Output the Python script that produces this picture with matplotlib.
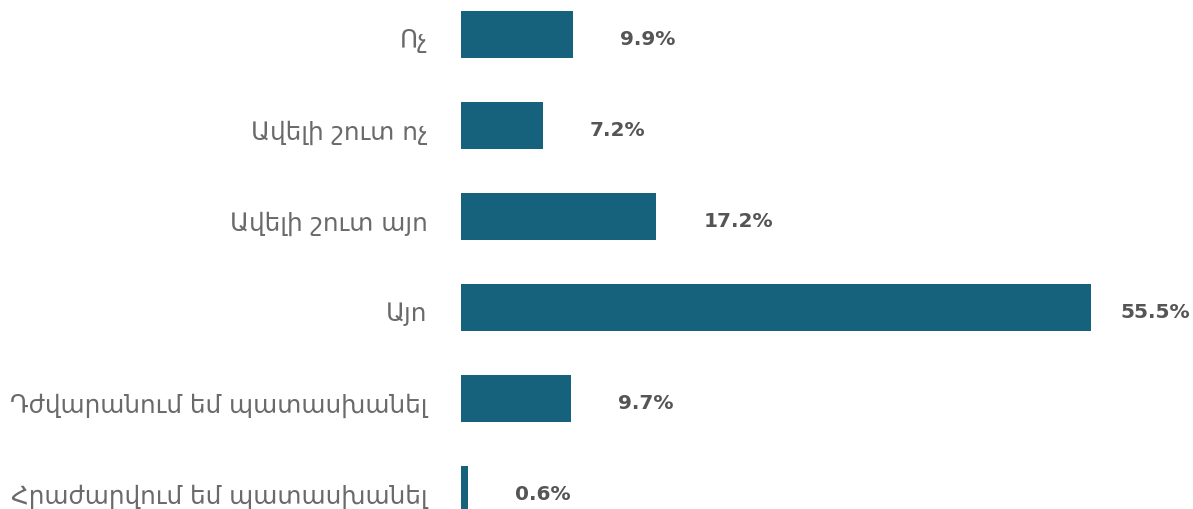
import matplotlib
matplotlib.use("Agg")
import matplotlib.pyplot as plt
import matplotlib.transforms as mtrans

categories = ["Ոչ", "Ավելի շուտ ոչ", "Ավելի շուտ այո", "Այո",
              "Դժվարանում եմ պատասխանել", "Հրաժարվում եմ պատասխանել"]
values = [9.9, 7.2, 17.2, 55.5, 9.7, 0.6]
value_labels = ["9.9%", "7.2%", "17.2%", "55.5%", "9.7%", "0.6%"]

W, H = 1193, 510
fig = plt.figure(figsize=(W / 100, H / 100), dpi=100)
ax = fig.add_axes([461 / W, 0, (1091 - 461) / W, 1])

pos = list(range(len(categories)))
ax.barh(pos, values, height=0.52, color="#16627d")
ax.set_xlim(0, max(values))
ax.set_ylim(5 + (510 - 490.5) / 91, -35.5 / 91)

ax.set_yticks(pos)
ax.set_yticklabels(categories, fontsize=17.8, color="#6a6a6a",
                   family=["DejaVu Sans"])
ax.tick_params(axis="y", length=0, pad=24)
shift = mtrans.ScaledTranslation(0, -2.5 / 72, fig.dpi_scale_trans)
for t in ax.get_yticklabels():
    t.set_transform(t.get_transform() + shift)
ax.set_xticks([])
for s in ax.spines.values():
    s.set_visible(False)

for p, v, lab in zip(pos, values, value_labels):
    off = 47 if v < max(values) else 29
    ax.annotate(lab, xy=(v, p), xytext=(off * 0.72, -3), textcoords="offset points",
                ha="left", va="center", fontsize=14.5, fontweight="bold",
                color="#555555", annotation_clip=False)

fig.savefig("out.png", dpi=100)
